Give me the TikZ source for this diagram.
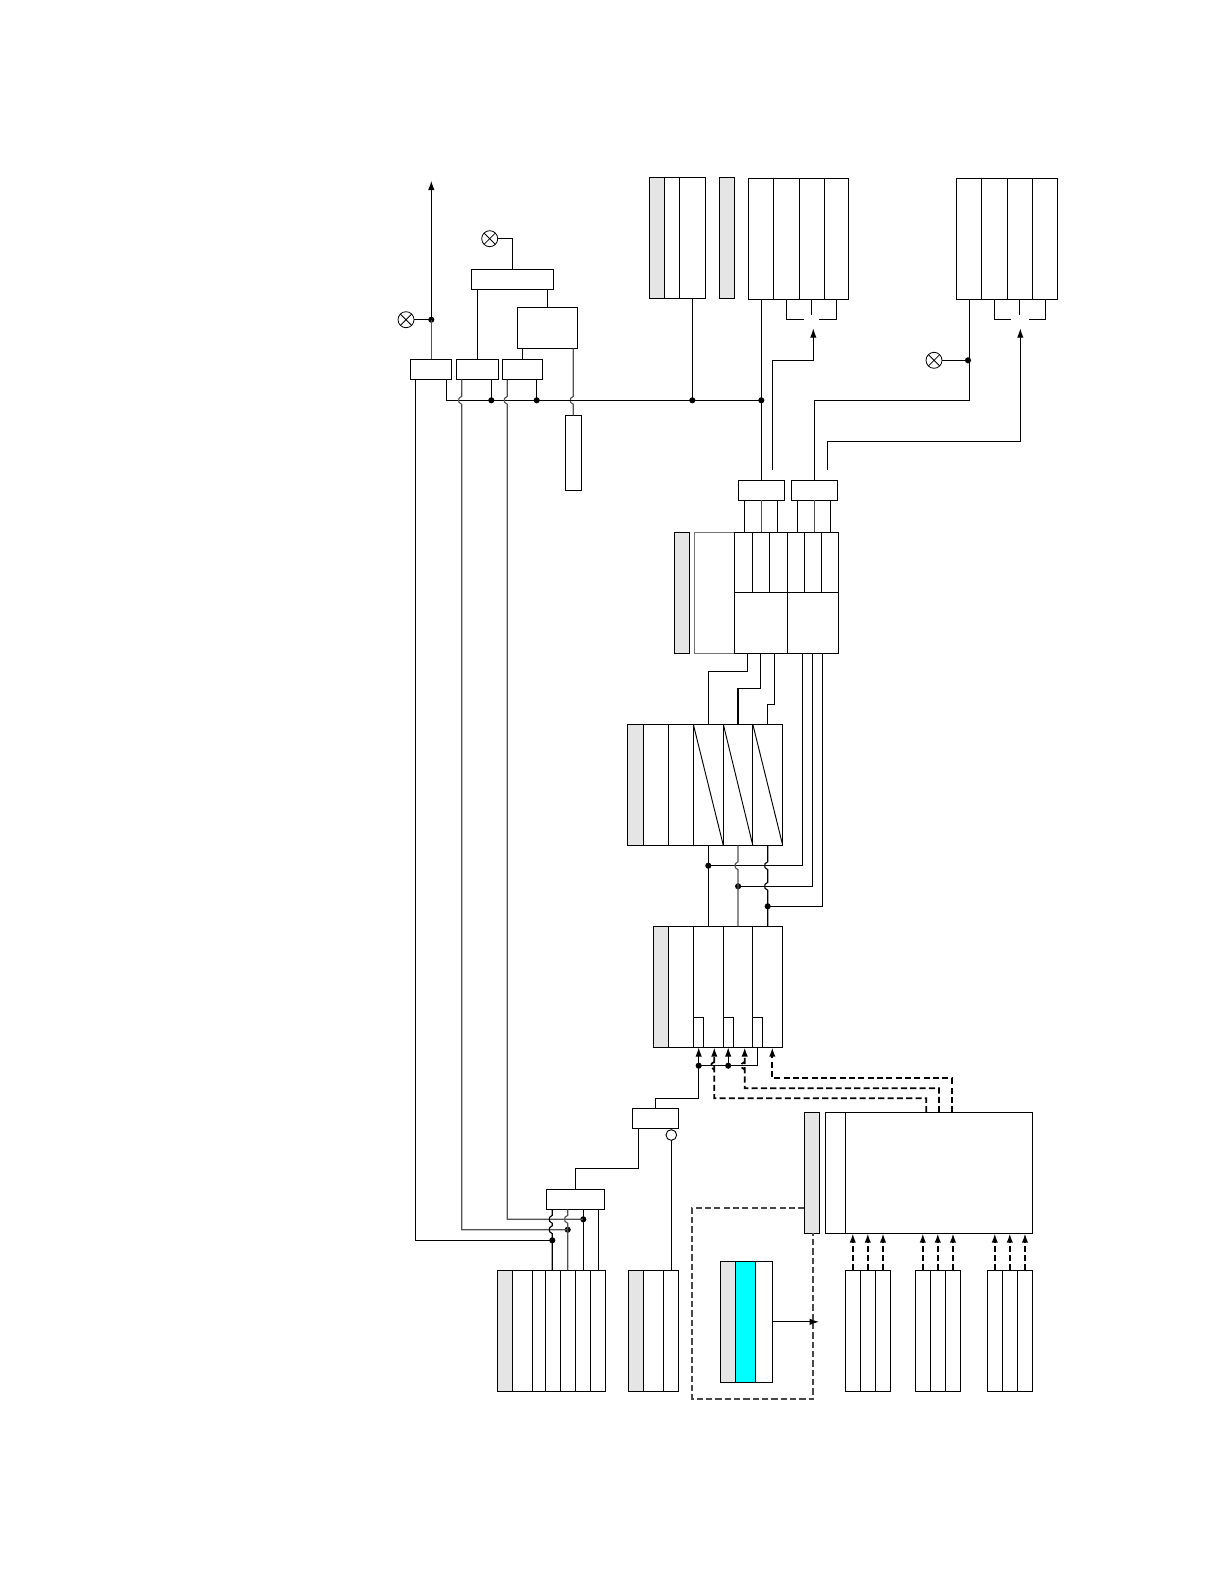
\documentclass[tikz,border=0pt]{standalone}
\usetikzlibrary{arrows.meta}
\definecolor{panelgray}{HTML}{E5E5E5}
\definecolor{litecyan}{RGB}{0,255,255}
\tikzset{
  wire/.style={line width=.85pt,line join=miter},
  wgray/.style={wire,draw=black!68},
  arr/.style={wire,-{Latex[length=7pt,width=4.8pt]}},
  dsh/.style={wire,line width=1.3pt,dash pattern=on 4.6pt off 2.4pt},
  dsharr/.style={dsh,-{Latex[length=7pt,width=4.8pt]}},
  dshl/.style={dsh,line width=1.35pt,draw=black!72},
  cellbox/.style={draw,line width=.85pt,inner sep=0pt,outer sep=0pt,fill=white},
  grayfill/.style={fill=panelgray},
  jdot/.style={circle,fill=black,inner sep=0pt,outer sep=0pt,minimum size=4.6pt},
  ring/.style={circle,draw,fill=white,line width=.7pt,inner sep=0pt,outer sep=0pt,minimum size=8pt},
  lamp/.style={circle,draw,fill=white,line width=.6pt,inner sep=0pt,outer sep=0pt,minimum size=12pt,
    path picture={\draw[line width=.6pt] (path picture bounding box.north west)--(path picture bounding box.south east)
      (path picture bounding box.north east)--(path picture bounding box.south west);}},
}
\newcommand\pcell[6][]{\node[cellbox,#1,minimum width={(#5-#3)*0.75pt},minimum height={(#6-#4)*0.75pt},anchor=north west] (#2) at (#3,#4) {};}
\newcommand\pcols[5]{\foreach \b [count=\i,remember=\b as \a (initially #4)] in {#5} {\pcell{#1\i}{\a}{#2}{\b}{#3}}}
\newcommand\hopv[2]{-- (#1,#2-4) .. controls (#1-3,#2-3) and (#1-3.2,#2-1) .. (#1-3,#2) .. controls (#1-3.2,#2+1) and (#1-3,#2+3) .. (#1,#2+4)}
\begin{document}
\begin{tikzpicture}[x=0.75pt,y=-0.75pt]
\useasboundingbox (0,0) rectangle (1224,1584);
% ---------- boxes ----------
\pcell{b1}{410.3}{359.3}{451.7}{379.7}
\pcell{b2}{456.3}{359.3}{498.3}{379.7}
\pcell{b3}{502.3}{359.3}{542.7}{379.7}
\pcell{bt}{471.3}{269.3}{553.3}{289.3}
\pcell{bm}{517.3}{307.3}{577.7}{348.3}
\pcell{sb}{565.3}{415.3}{581.3}{490.3}
\pcell[grayfill]{Ag}{649.3}{177.3}{664.3}{298.3}
\pcols{A}{177.3}{298.3}{664.3}{679.3,705.3}
\pcell[grayfill]{Bg}{719.3}{177.3}{734.7}{298.3}
\pcols{B}{178.3}{299.3}{748.3}{773.3,799.3,824.7,848.7}
\pcols{C}{178.3}{299.3}{956.7}{981.7,1007.3,1032.7,1057.7}
\pcell{D}{738.3}{480.3}{784.3}{500.3}
\pcell{E}{791.3}{480.3}{837.3}{500.3}
\pcell[grayfill]{Qg}{674.3}{532.3}{689.7}{653.3}
\pcell[draw=black!55]{Qb}{694.7}{532.3}{734.3}{653.3}
\pcols{Q}{532.3}{592.3}{734.3}{752.3,769.3,787.3,804.3,821.3,838.3}
\pcell{R1}{734.3}{592.3}{787.3}{653.3}
\pcell{R2}{787.3}{592.3}{838.3}{653.3}
\pcell[grayfill]{Fg}{627.3}{724.3}{643.3}{845.3}
\pcols{F}{724.3}{845.3}{643.3}{668.3,693.3,723.3,752.8,782.7}
\pcell[grayfill]{Gg}{653.3}{926.3}{668.3}{1047.3}
\pcols{G}{926.3}{1047.3}{668.3}{693.3,723.3,752.3,782.7}
\pcell{T1}{693.3}{1017.3}{703.3}{1047.3}
\pcell{T2}{723.3}{1017.3}{733.7}{1047.3}
\pcell{T3}{752.3}{1017.3}{762.7}{1047.3}
\pcell{H}{632.3}{1108.3}{678.7}{1128.3}
\pcell{J}{546.3}{1189.3}{604.3}{1209.3}
\pcell[grayfill]{S}{804.3}{1112.3}{819.3}{1233.3}
\pcell{I1}{825.3}{1112.3}{845.3}{1233.3}
\pcell{I2}{845.3}{1112.3}{1032.7}{1233.3}
\pcell[grayfill]{Kg}{497.3}{1270.3}{512.3}{1391.3}
\pcols{K}{1270.3}{1391.3}{512.3}{532.3,545.3,560.3,575.3,590.3,605.7}
\pcell[grayfill]{Lg}{628.3}{1270.3}{643.3}{1391.3}
\pcols{L}{1270.3}{1391.3}{643.3}{663.3,678.7}
\pcell[grayfill]{Mg}{720.3}{1261.3}{735.7}{1382.3}
\pcell[fill=litecyan]{Mc}{735.7}{1261.3}{755.3}{1382.3}
\pcell{M1}{755.3}{1261.3}{772.3}{1382.3}
\pcols{N}{1270.3}{1391.3}{845.3}{860.3,875.3,890.7}
\pcols{O}{1270.3}{1391.3}{915.3}{930.3,945.3,960.7}
\pcols{P}{1270.3}{1391.3}{987.3}{1002.3,1017.3,1032.7}
% diagonals in the F panel
\draw[wire,line width=.7pt] (F3.north west) -- (F3.south east);
\draw[wire,line width=.7pt] (F4.north west) -- (F4.south east);
\draw[wire,line width=.7pt] (F5.north west) -- (F5.south east);
% ---------- lamps, junctions ----------
\node[lamp] (l1) at (406,319.7) {};
\node[lamp] (l2) at (489.7,238.7) {};
\node[lamp] (l3) at (934,360.3) {};
\node[ring] (c1) at (671.3,1135) {};
\foreach \n/\x/\y in {d1/431.3/319.7,d2/491.3/400.3,d3/536.7/400.3,d5/761.3/400.3,d6/968/360.3,
  j1/708.3/865.7,j2/738.1/886.3,j3/767.7/906.3,k1/698.7/1065.7,k2/728.2/1065.7,
  e1/583.3/1219.3,e2/567.7/1229.7,e3/552.3/1240.3}
  {\node[jdot] (\n) at (\x,\y) {};}
\node[jdot] (d4) at (A2.south |- d5) {};
\coordinate (upTip) at (431.3,180.7);
\coordinate (tipB) at (813.3,328.3);
\coordinate (tipC) at (1020.3,328.3);
\coordinate (outD) at (772.3,470);
\coordinate (outE) at (827.3,469.7);
\coordinate (tipM) at (819,1321.8);
% ---------- top-left group ----------
\draw[wgray] (b1.north -| 431.3,0) -- (d1.center);
\draw[arr] (d1.center) -- (upTip);
\draw[wire] (l1.east) -- (d1.center);
\draw[wire] (l2.east) -| (bt.north);
\draw[wire] (b2.north |- bt.south) -- (b2.north);
\draw[wire] (bt.south -| bm.north) -- (bm.north);
\draw[wire] (bm.south -| b3.north) -- (b3.north);
\draw[wgray] (bm.south -| sb.north) \hopv{573.3}{400.3} -- (sb.north);
\draw[wire] (b1.south -| 446.7,0) |- (d5.center);
\draw[wire] (b2.south -| d2.center) -- (d2.center);
\draw[wire] (b3.south -| d3.center) -- (d3.center);
\draw[wire] (A2.south) -- (d4.center);
% long wires
\draw[wire] (b1.south -| 415.3,0) |- (e3.center);
\draw[wgray] (b2.south -| 461.7,0) \hopv{461.7}{400.3} |- (e2.center);
\draw[wgray] (b3.south -| 507.3,0) \hopv{507.3}{400.3} |- (e1.center);
% ---------- top-right group ----------
\draw[wire] (B1.south -| D.north) -- (D.north);
\draw[wire] (B2.south -| 786.3,0) |- (804,319.3);
\draw[wire] (B3.south -| 836.7,0) |- (819.3,319.3);
\draw[wire] (B3.south -| 811.7,0) -- (811.7,314.7);
\draw[arr] (outD) |- (813.3,360.3) -- (tipB);
\draw[wire] (C1.south -| 969.3,0) |- (814.3,400.3) -- (E.north -| 814.3,0);
\draw[wire] (C3.south -| 994.3,0) |- (1011,319.3);
\draw[wire] (C3.south -| 1045.3,0) |- (1029.3,319.3);
\draw[wire] (C3.south -| 1019.3,0) -- (1019.3,314.7);
\draw[wire] (l3.east) -- (d6.center);
\draw[arr] (outE) |- (1020.3,441.3) -- (tipC);
% ---------- D,E to grid ----------
\draw[wire] (D.south -| 744.3,0) -- (Q1.north -| 744.3,0);
\draw[wgray] (D.south) -- (Q2.north -| D.south);
\draw[wire] (D.south -| 777.7,0) -- (Q3.north -| 777.7,0);
\draw[wire] (E.south -| 797.3,0) -- (Q4.north -| 797.3,0);
\draw[wgray] (E.south) -- (Q5.north -| E.south);
\draw[wire] (E.south -| 830.7,0) -- (Q6.north -| 830.7,0);
% ---------- grid to F ----------
\draw[wire] (R1.south -| 747.3,0) -- (747.3,671.3) -| (F3.north);
\draw[wire] (R1.south -| 760.3,0) -- (760.3,688.3) -| (F4.north);
\draw[wire] (R1.south -| 774.3,0) -- (774.3,704.3) -| (F5.north);
\draw[wire] (R2.south -| 802.7,0) |- (j1.center);
\draw[wire] (R2.south -| 812.7,0) |- (j2.center);
\draw[wire] (R2.south -| 822.7,0) |- (j3.center);
% ---------- F to G ----------
\draw[wire] (F3.south) -- (G2.north);
\draw[wgray] (F4.south) \hopv{738.05}{865.7} -- (G3.north -| F4.south);
\draw[wire] (F5.south) \hopv{767.75}{865.7} \hopv{767.75}{886.3} -- (G4.north -| F5.south);
% ---------- G inputs ----------
\draw[arr] (k1.center) -- (T1.south -| k1.center);
\draw[arr] (k2.center) -- (T2.south -| k2.center);
\draw[wire] (k1.center) -| (T3.south);
\draw[wire] (k1.center) -- (698.7,1098.3) -| (H.north);
\draw[dsharr] (I2.north -| 926.3,0) -- (926.3,1098.3) -- (714.3,1098.3) \hopv{714.3}{1065.7} -- (G2.south -| 714.3,0);
\draw[dsharr] (I2.north -| 939,0) -- (939,1088.3) -- (744.7,1088.3) \hopv{744.7}{1065.7} -- (G3.south -| 744.7,0);
\draw[dsharr] (I2.north -| 951.7,0) -- (951.7,1078.3) -- (772.3,1078.3) -- (G4.south -| 772.3,0);
% ---------- H, J and below ----------
\draw[wire] (H.south -| 638.3,0) -- (638.3,1168.3) -| (J.north);
\draw[wire] (c1.south) -- (c1.south |- L2.north);
\draw[wire] (J.south -| 552.3,0) \hopv{552.3}{1219.3} \hopv{552.3}{1229.7} -- (e3.center) -- (K2.north -| 552.3,0);
\draw[wgray] (J.south -| 567.7,0) \hopv{567.7}{1219.3} -- (e2.center) -- (K3.north -| 567.7,0);
\draw[wire] (J.south -| 583.3,0) -- (e1.center) -- (K5.north -| 583.3,0);
\draw[wire] (J.south -| 598.3,0) -- (K6.north -| 598.3,0);
% ---------- dashed enclosure ----------
\draw[dshl] (S.west |- 0,1207.7) -- (692.3,1207.7) -- (692.3,1399.3) -- (813.3,1399.3) -- (S.south -| 813.3,0);
\draw[arr] (M1.east) -- (tipM);
% ---------- dashed arrows ----------
\foreach \c in {N1,N2,N3,O1,O2,O3,P1,P2,P3}
  {\draw[dsharr] (\c.north) -- (I2.south -| \c.north);}
\end{tikzpicture}
\end{document}
